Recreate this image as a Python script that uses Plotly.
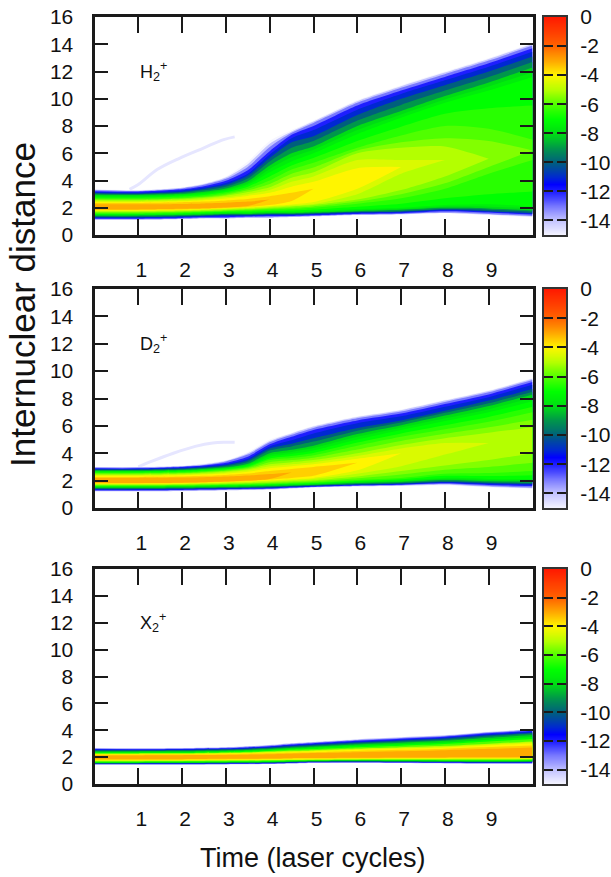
import plotly.graph_objects as go
from plotly.colors import sample_colorscale

N = None
TIME = [0, 1, 2, 2.5, 3, 3.5, 4, 4.5, 5, 6, 7, 8, 9, 10]
LEVELS_FINE = [-15, -14, -13, -12, -11, -10, -9, -8, -7.5, -7, -6.5, -6, -5.5, -5, -4.5, -4, -3.5, -3]
LEVELS_X2 = [-15, -14, -13, -12, -11, -10, -9, -8, -7, -6, -5, -4.5, -4, -3.5, -3]

# Internuclear distance of each log-density level at each TIME
H2_UPPER = [
    [3.35, 3.30, 3.50, 3.80, 4.30, 5.40, 6.90, 7.70, 8.40, 9.90, 11.00, 12.00, 13.00, 14.10],
    [3.32, 3.27, 3.47, 3.75, 4.22, 5.20, 6.70, 7.60, 8.33, 9.82, 10.92, 11.92, 12.92, 14.02],
    [3.28, 3.23, 3.42, 3.68, 4.12, 5.00, 6.45, 7.50, 8.22, 9.70, 10.80, 11.80, 12.80, 13.90],
    [3.22, 3.18, 3.35, 3.58, 3.98, 4.75, 6.15, 7.35, 8.00, 9.50, 10.60, 11.60, 12.60, 13.70],
    [3.15, 3.11, 3.27, 3.48, 3.82, 4.50, 5.90, 7.10, 7.70, 9.20, 10.35, 11.35, 12.35, 13.45],
    [3.08, 3.05, 3.18, 3.38, 3.68, 4.35, 5.65, 6.80, 7.25, 8.80, 10.00, 11.00, 12.00, 13.10],
    [3.02, 3.00, 3.10, 3.28, 3.55, 4.15, 5.40, 6.40, 6.90, 8.40, 9.55, 10.60, 11.60, 12.70],
    [2.95, 2.93, 3.02, 3.18, 3.42, 3.95, 5.10, 6.00, 6.50, 8.00, 9.10, 10.20, 11.20, 12.30],
    [2.88, 2.86, 2.96, 3.10, 3.33, 3.80, 4.85, 5.70, 6.25, 7.70, 8.85, 9.95, 10.90, 11.95],
    [2.82, 2.80, 2.90, 3.02, 3.25, 3.68, 4.60, 5.40, 6.00, 7.40, 8.60, 9.70, 10.60, 11.60],
    [2.75, 2.73, 2.82, 2.93, 3.15, 3.55, 4.30, 5.10, 5.65, 6.90, 7.95, 8.90, 9.30, 9.50],
    [2.68, 2.66, 2.74, 2.85, 3.05, 3.40, 4.00, 4.80, 5.30, 6.40, 7.30, 8.00, 7.80, 7.00],
    [2.62, 2.60, 2.68, 2.78, 2.96, 3.28, 3.75, 4.50, 4.95, 6.20, 6.80, 7.10, 6.90, 6.20],
    [2.57, 2.55, 2.62, 2.72, 2.88, 3.15, 3.50, 4.20, 4.60, 6.00, 6.40, 6.50, 5.60, N],
    [2.50, 2.48, 2.55, 2.63, 2.78, 3.00, 3.30, 3.90, 4.30, 5.50, 5.50, 5.50, N, N],
    [2.43, 2.41, 2.47, 2.55, 2.68, 2.87, 3.10, 3.55, 3.90, 4.90, 5.00, N, N, N],
    [2.35, 2.35, 2.40, 2.45, 2.54, 2.65, 2.85, 3.10, 3.40, N, N, N, N, N],
    [2.25, 2.25, 2.28, 2.32, 2.37, 2.45, 2.60, N, N, N, N, N, N, N],
]
H2_LOWER = [
    [1.10, 1.10, 1.15, 1.20, 1.20, 1.25, 1.25, 1.30, 1.35, 1.45, 1.50, 1.60, 1.45, 1.30],
    [1.12, 1.12, 1.17, 1.22, 1.22, 1.27, 1.27, 1.32, 1.37, 1.47, 1.52, 1.62, 1.50, 1.35],
    [1.15, 1.15, 1.20, 1.25, 1.25, 1.30, 1.30, 1.35, 1.40, 1.50, 1.55, 1.65, 1.55, 1.40],
    [1.20, 1.20, 1.25, 1.30, 1.30, 1.35, 1.40, 1.40, 1.45, 1.55, 1.60, 1.75, 1.65, 1.50],
    [1.25, 1.25, 1.30, 1.35, 1.40, 1.40, 1.45, 1.45, 1.50, 1.60, 1.65, 1.80, 1.70, 1.55],
    [1.30, 1.30, 1.35, 1.40, 1.45, 1.45, 1.50, 1.50, 1.55, 1.65, 1.70, 1.85, 1.75, 1.60],
    [1.35, 1.35, 1.40, 1.45, 1.50, 1.50, 1.55, 1.55, 1.60, 1.70, 1.75, 1.90, 1.85, 1.70],
    [1.42, 1.42, 1.46, 1.50, 1.55, 1.55, 1.60, 1.60, 1.65, 1.75, 1.85, 2.00, 1.95, 1.80],
    [1.46, 1.46, 1.50, 1.55, 1.60, 1.60, 1.65, 1.65, 1.70, 1.82, 1.92, 2.10, 2.08, 1.95],
    [1.50, 1.50, 1.55, 1.60, 1.65, 1.65, 1.70, 1.70, 1.75, 1.90, 2.00, 2.20, 2.25, 2.10],
    [1.55, 1.55, 1.60, 1.65, 1.70, 1.72, 1.77, 1.80, 1.87, 2.08, 2.30, 2.70, 3.00, 3.20],
    [1.60, 1.60, 1.65, 1.70, 1.75, 1.80, 1.85, 1.90, 2.00, 2.30, 2.70, 3.40, 4.50, 5.50],
    [1.66, 1.66, 1.70, 1.75, 1.80, 1.85, 1.92, 2.00, 2.10, 2.45, 3.00, 3.80, 5.00, 6.20],
    [1.70, 1.70, 1.74, 1.79, 1.84, 1.90, 2.00, 2.10, 2.20, 2.60, 3.30, 4.30, 5.60, N],
    [1.75, 1.75, 1.79, 1.84, 1.90, 1.97, 2.06, 2.16, 2.28, 3.00, 4.50, 5.50, N, N],
    [1.80, 1.80, 1.84, 1.89, 1.95, 2.02, 2.12, 2.24, 2.42, 3.40, 5.00, N, N, N],
    [1.84, 1.84, 1.88, 1.92, 1.98, 2.06, 2.20, 2.50, 3.40, N, N, N, N, N],
    [1.88, 1.88, 1.92, 1.96, 2.02, 2.12, 2.60, N, N, N, N, N, N, N],
]
D2_UPPER = [
    [3.00, 3.00, 3.10, 3.25, 3.50, 4.10, 5.00, 5.50, 6.00, 6.70, 7.20, 7.90, 8.60, 9.50],
    [2.98, 2.98, 3.07, 3.20, 3.45, 4.00, 4.90, 5.45, 5.95, 6.65, 7.15, 7.85, 8.55, 9.45],
    [2.95, 2.95, 3.04, 3.15, 3.40, 3.90, 4.80, 5.35, 5.85, 6.55, 7.05, 7.75, 8.45, 9.35],
    [2.90, 2.90, 3.00, 3.10, 3.30, 3.75, 4.65, 5.20, 5.70, 6.40, 6.90, 7.60, 8.30, 9.20],
    [2.86, 2.86, 2.94, 3.04, 3.20, 3.60, 4.50, 4.95, 5.45, 6.20, 6.70, 7.40, 8.10, 9.00],
    [2.82, 2.82, 2.88, 2.97, 3.12, 3.48, 4.35, 4.70, 5.10, 5.85, 6.40, 7.10, 7.85, 8.70],
    [2.78, 2.78, 2.84, 2.92, 3.05, 3.36, 4.20, 4.50, 4.85, 5.65, 6.25, 6.95, 7.65, 8.50],
    [2.72, 2.72, 2.78, 2.85, 2.97, 3.24, 4.00, 4.25, 4.55, 5.40, 6.05, 6.75, 7.45, 8.30],
    [2.68, 2.68, 2.74, 2.81, 2.92, 3.17, 3.88, 4.10, 4.38, 5.20, 5.88, 6.55, 7.22, 8.05],
    [2.65, 2.65, 2.70, 2.77, 2.88, 3.10, 3.75, 3.95, 4.20, 5.00, 5.70, 6.35, 7.00, 7.80],
    [2.60, 2.60, 2.65, 2.72, 2.83, 3.03, 3.62, 3.80, 4.02, 4.78, 5.45, 6.05, 6.65, 7.40],
    [2.55, 2.55, 2.60, 2.67, 2.78, 2.97, 3.50, 3.65, 3.85, 4.55, 5.20, 5.75, 6.30, 7.00],
    [2.50, 2.50, 2.55, 2.62, 2.72, 2.90, 3.35, 3.50, 3.68, 4.28, 4.90, 5.42, 5.90, 6.45],
    [2.45, 2.45, 2.50, 2.57, 2.67, 2.83, 3.20, 3.35, 3.50, 4.00, 4.60, 5.10, 5.50, 5.90],
    [2.40, 2.40, 2.45, 2.50, 2.60, 2.75, 3.05, 3.20, 3.35, 3.80, 4.35, 4.75, 4.75, N],
    [2.35, 2.35, 2.40, 2.45, 2.52, 2.65, 2.90, 3.05, 3.20, 3.60, 4.00, N, N, N],
    [2.27, 2.27, 2.30, 2.35, 2.42, 2.52, 2.70, 2.85, 3.00, 3.30, N, N, N, N],
    [2.20, 2.20, 2.22, 2.25, 2.30, 2.37, 2.48, 2.60, N, N, N, N, N, N],
]
D2_LOWER = [
    [1.20, 1.20, 1.22, 1.25, 1.27, 1.30, 1.32, 1.40, 1.47, 1.55, 1.60, 1.65, 1.50, 1.40],
    [1.22, 1.22, 1.25, 1.27, 1.30, 1.32, 1.35, 1.43, 1.50, 1.58, 1.63, 1.70, 1.55, 1.45],
    [1.25, 1.25, 1.27, 1.30, 1.32, 1.35, 1.38, 1.46, 1.53, 1.61, 1.66, 1.75, 1.60, 1.50],
    [1.30, 1.30, 1.32, 1.35, 1.37, 1.40, 1.43, 1.50, 1.56, 1.65, 1.70, 1.80, 1.68, 1.60],
    [1.34, 1.34, 1.36, 1.38, 1.40, 1.43, 1.46, 1.53, 1.59, 1.68, 1.74, 1.85, 1.74, 1.68],
    [1.38, 1.38, 1.40, 1.42, 1.44, 1.47, 1.50, 1.57, 1.63, 1.72, 1.78, 1.90, 1.80, 1.75],
    [1.42, 1.42, 1.44, 1.46, 1.48, 1.50, 1.54, 1.60, 1.66, 1.76, 1.83, 1.96, 1.87, 1.83],
    [1.48, 1.48, 1.50, 1.52, 1.54, 1.56, 1.60, 1.65, 1.70, 1.82, 1.90, 2.05, 1.96, 1.93],
    [1.52, 1.52, 1.54, 1.56, 1.58, 1.60, 1.64, 1.69, 1.74, 1.87, 1.96, 2.12, 2.04, 2.01],
    [1.56, 1.56, 1.58, 1.60, 1.62, 1.64, 1.68, 1.73, 1.78, 1.92, 2.02, 2.20, 2.12, 2.10],
    [1.59, 1.59, 1.61, 1.63, 1.66, 1.68, 1.72, 1.77, 1.83, 1.98, 2.10, 2.35, 2.33, 2.40],
    [1.62, 1.62, 1.64, 1.66, 1.70, 1.72, 1.76, 1.82, 1.88, 2.05, 2.20, 2.50, 2.55, 2.70],
    [1.66, 1.66, 1.68, 1.70, 1.74, 1.77, 1.82, 1.88, 1.95, 2.17, 2.45, 2.80, 3.00, 3.30],
    [1.70, 1.70, 1.72, 1.75, 1.78, 1.82, 1.88, 1.95, 2.02, 2.30, 2.70, 3.10, 3.50, 4.00],
    [1.73, 1.73, 1.76, 1.80, 1.84, 1.88, 1.95, 2.03, 2.12, 2.50, 3.05, 3.90, 4.75, N],
    [1.76, 1.76, 1.79, 1.83, 1.88, 1.93, 2.01, 2.10, 2.20, 2.75, 4.00, N, N, N],
    [1.79, 1.79, 1.82, 1.86, 1.91, 1.97, 2.08, 2.20, 2.35, 3.30, N, N, N, N],
    [1.82, 1.82, 1.85, 1.88, 1.93, 2.00, 2.12, 2.60, N, N, N, N, N, N],
]
X2_UPPER = [
    [2.70, 2.68, 2.70, 2.72, 2.75, 2.82, 2.92, 3.05, 3.15, 3.35, 3.50, 3.65, 3.90, 4.10],
    [2.68, 2.66, 2.68, 2.70, 2.73, 2.80, 2.90, 3.03, 3.13, 3.32, 3.47, 3.62, 3.87, 4.07],
    [2.65, 2.63, 2.65, 2.67, 2.70, 2.77, 2.86, 2.99, 3.09, 3.28, 3.43, 3.58, 3.83, 4.03],
    [2.60, 2.59, 2.61, 2.63, 2.66, 2.72, 2.81, 2.94, 3.04, 3.22, 3.37, 3.52, 3.77, 3.97],
    [2.56, 2.55, 2.57, 2.59, 2.62, 2.68, 2.76, 2.88, 2.98, 3.16, 3.30, 3.45, 3.70, 3.90],
    [2.52, 2.51, 2.53, 2.55, 2.58, 2.63, 2.71, 2.82, 2.92, 3.09, 3.23, 3.38, 3.62, 3.82],
    [2.48, 2.47, 2.49, 2.51, 2.54, 2.59, 2.66, 2.76, 2.85, 3.02, 3.16, 3.30, 3.54, 3.75],
    [2.42, 2.42, 2.43, 2.45, 2.48, 2.53, 2.60, 2.70, 2.78, 2.94, 3.07, 3.21, 3.44, 3.65],
    [2.36, 2.36, 2.37, 2.39, 2.42, 2.47, 2.53, 2.62, 2.70, 2.84, 2.96, 3.08, 3.30, 3.50],
    [2.30, 2.30, 2.31, 2.33, 2.36, 2.40, 2.46, 2.54, 2.60, 2.74, 2.85, 2.97, 3.16, 3.35],
    [2.26, 2.26, 2.27, 2.29, 2.32, 2.35, 2.41, 2.47, 2.52, 2.64, 2.74, 2.84, 3.00, 3.17],
    [2.24, 2.24, 2.25, 2.27, 2.29, 2.32, 2.37, 2.43, 2.48, 2.59, 2.69, 2.78, 2.94, 3.10],
    [2.21, 2.21, 2.22, 2.24, 2.26, 2.29, 2.34, 2.39, 2.44, 2.54, 2.63, 2.72, 2.87, 3.02],
    [2.18, 2.18, 2.19, 2.20, 2.22, 2.25, 2.29, 2.33, 2.37, 2.46, 2.54, 2.63, 2.75, 2.87],
    [2.13, 2.13, 2.14, 2.15, 2.16, 2.18, 2.21, 2.25, 2.30, 2.37, 2.44, 2.52, 2.62, 2.72],
]
X2_LOWER = [
    [1.41, 1.41, 1.42, 1.43, 1.44, 1.45, 1.47, 1.50, 1.54, 1.57, 1.55, 1.52, 1.50, 1.49],
    [1.43, 1.43, 1.44, 1.45, 1.46, 1.47, 1.49, 1.52, 1.56, 1.59, 1.57, 1.54, 1.52, 1.51],
    [1.45, 1.45, 1.46, 1.46, 1.47, 1.48, 1.50, 1.54, 1.58, 1.60, 1.58, 1.55, 1.53, 1.53],
    [1.48, 1.48, 1.49, 1.49, 1.50, 1.51, 1.53, 1.57, 1.61, 1.62, 1.60, 1.58, 1.56, 1.57],
    [1.51, 1.51, 1.52, 1.52, 1.53, 1.54, 1.56, 1.60, 1.64, 1.66, 1.64, 1.62, 1.60, 1.61],
    [1.53, 1.53, 1.54, 1.54, 1.55, 1.56, 1.58, 1.62, 1.66, 1.68, 1.66, 1.64, 1.62, 1.64],
    [1.55, 1.55, 1.56, 1.56, 1.57, 1.58, 1.60, 1.64, 1.68, 1.70, 1.68, 1.66, 1.64, 1.66],
    [1.57, 1.57, 1.58, 1.59, 1.60, 1.61, 1.63, 1.67, 1.71, 1.73, 1.71, 1.69, 1.67, 1.69],
    [1.60, 1.60, 1.61, 1.62, 1.63, 1.64, 1.66, 1.70, 1.74, 1.76, 1.74, 1.72, 1.71, 1.73],
    [1.65, 1.65, 1.66, 1.67, 1.68, 1.69, 1.71, 1.74, 1.77, 1.79, 1.78, 1.77, 1.76, 1.78],
    [1.70, 1.70, 1.71, 1.72, 1.73, 1.74, 1.76, 1.79, 1.81, 1.83, 1.83, 1.83, 1.82, 1.84],
    [1.73, 1.73, 1.74, 1.75, 1.76, 1.77, 1.79, 1.81, 1.83, 1.85, 1.86, 1.86, 1.86, 1.87],
    [1.76, 1.76, 1.77, 1.78, 1.79, 1.80, 1.82, 1.84, 1.85, 1.87, 1.89, 1.90, 1.91, 1.91],
    [1.80, 1.80, 1.81, 1.82, 1.83, 1.84, 1.86, 1.88, 1.89, 1.91, 1.93, 1.94, 1.95, 1.95],
    [1.84, 1.84, 1.85, 1.86, 1.87, 1.88, 1.90, 1.92, 1.93, 1.95, 1.97, 1.98, 1.99, 2.00],
]
H2_GHOST_T = [0.8, 1.0, 1.43, 1.95, 2.5, 2.95, 3.2]
H2_GHOST_R = [3.35, 3.7, 4.8, 5.65, 6.4, 7.0, 7.2]
D2_GHOST_T = [1.0, 1.3, 1.8, 2.3, 2.7, 3.0, 3.2]
D2_GHOST_R = [3.0, 3.4, 4.0, 4.5, 4.75, 4.8, 4.8]

PANEL_LABELS = ["H<sub>2</sub><sup>+</sup>", "D<sub>2</sub><sup>+</sup>", "X<sub>2</sub><sup>+</sup>"]
X_TICKS = [1, 2, 3, 4, 5, 6, 7, 8, 9]
Y_TICKS = [0, 2, 4, 6, 8, 10, 12, 14, 16]
CBAR_TICKS = [0, -2, -4, -6, -8, -10, -12, -14]
CBAR_LABELS = ["0", "-2", "-4", "-6", "-8", "-10", "-12", "-14"]
CBAR_RAMP = [-15, -14.5, -14, -13.5, -13, -12.5, -12, -11.5, -11, -10.5, -10, -9.5, -9, -8.5, -8,
             -7.5, -7, -6.5, -6, -5.5, -5, -4.5, -4, -3.5, -3, -2.5, -2, -1.5, -1, -0.5, 0]

COLOR_STOPS = [
    (-15, "rgb(246,246,255)"), (-14, "rgb(196,196,255)"), (-13, "rgb(120,120,255)"),
    (-12, "rgb(30,30,255)"), (-11.5, "rgb(0,0,255)"), (-11, "rgb(0,40,210)"),
    (-10, "rgb(0,95,125)"), (-9, "rgb(0,150,75)"), (-8, "rgb(0,220,20)"), (-7, "rgb(0,255,0)"),
    (-6, "rgb(80,255,0)"), (-5, "rgb(180,255,0)"), (-4, "rgb(255,245,0)"),
    (-3, "rgb(255,170,0)"), (-2, "rgb(255,100,0)"), (0, "rgb(255,25,0)"),
]
SCALE = [[(v + 15) / 15, c] for v, c in COLOR_STOPS]

W, H = 611, 877
FONT = "Liberation Sans"
FRAME = "#1a1a1a"
PANELS = [(17, 235), (289, 508), (569, 784)]
PLOT_X = (94.5, 532.5)
CBAR_X = (544, 566)


def level_color(level):
    return sample_colorscale(SCALE, [(level + 15) / 15])[0]


def present(values):
    pts = [(t, v) for t, v in zip(TIME, values) if v is not None]
    return [p[0] for p in pts], [p[1] for p in pts]


fig = go.Figure()
tables = [(LEVELS_FINE, H2_UPPER, H2_LOWER), (LEVELS_FINE, D2_UPPER, D2_LOWER), (LEVELS_X2, X2_UPPER, X2_LOWER)]
ghosts = [(H2_GHOST_T, H2_GHOST_R), (D2_GHOST_T, D2_GHOST_R), None]

for i, (levels, upper, lower) in enumerate(tables):
    xa, ya = f"x{2*i+1}", f"y{2*i+1}"
    if ghosts[i]:
        fig.add_trace(go.Scatter(x=ghosts[i][0], y=ghosts[i][1], mode="lines", xaxis=xa, yaxis=ya,
                                 line=dict(color="rgb(230,230,255)", width=3, shape="spline"),
                                 showlegend=False, hoverinfo="skip"))
    for level, up, lo in zip(levels, upper, lower):
        tx, vx = present(lo)
        fig.add_trace(go.Scatter(x=tx, y=vx, mode="lines", xaxis=xa, yaxis=ya,
                                 line=dict(width=0, shape="spline", smoothing=0.7),
                                 showlegend=False, hoverinfo="skip"))
        tx, vx = present(up)
        fig.add_trace(go.Scatter(x=tx, y=vx, mode="lines", xaxis=xa, yaxis=ya, fill="tonexty",
                                 fillcolor=level_color(level),
                                 line=dict(width=0, shape="spline", smoothing=0.7),
                                 showlegend=False, hoverinfo="skip"))
    fig.add_trace(go.Heatmap(x=[0, 1], y=CBAR_RAMP, z=[[v, v] for v in CBAR_RAMP],
                             xaxis=f"x{2*i+2}", yaxis=f"y{2*i+2}", colorscale=SCALE,
                             zmin=-15, zmax=0, showscale=False, zsmooth="best", hoverinfo="skip"))

layout = dict(width=W, height=H, margin=dict(l=0, r=0, t=0, b=0, autoexpand=False), autosize=False,
              paper_bgcolor="white", plot_bgcolor="white", showlegend=False,
              font=dict(family=FONT, size=21, color="#111111"))
annotations = []
for i, (top, bottom) in enumerate(PANELS):
    dom_y = [1 - bottom / H, 1 - top / H]
    a, b = 2 * i + 1, 2 * i + 2
    layout[f"xaxis{a}"] = dict(domain=[PLOT_X[0] / W, PLOT_X[1] / W], range=[0, 10], anchor=f"y{a}",
                               tickvals=X_TICKS, ticks="inside", ticklen=16, tickwidth=2, tickcolor=FRAME,
                               showline=True, linewidth=3, linecolor=FRAME, mirror="ticks", showgrid=False,
                               zeroline=False, ticklabelstandoff=14, ticklabelshift=3)
    layout[f"yaxis{a}"] = dict(domain=dom_y, range=[0, 16], anchor=f"x{a}",
                               tickvals=Y_TICKS, ticks="inside", ticklen=13, tickwidth=2, tickcolor=FRAME,
                               showline=True, linewidth=3, linecolor=FRAME, mirror="ticks", showgrid=False,
                               zeroline=False, ticklabelstandoff=14)
    layout[f"xaxis{b}"] = dict(domain=[CBAR_X[0] / W, CBAR_X[1] / W], range=[0, 1], anchor=f"y{b}",
                               showticklabels=False, ticks="", showline=True, linewidth=2, linecolor="#333333",
                               mirror=True, showgrid=False, zeroline=False)
    layout[f"yaxis{b}"] = dict(domain=dom_y, range=[-15, 0], anchor=f"x{b}", side="right",
                               tickvals=CBAR_TICKS, ticktext=CBAR_LABELS, ticks="inside", ticklen=9, tickwidth=2,
                               tickcolor="#1a1a1a", showline=True, linewidth=2, linecolor="#333333", mirror="ticks",
                               showgrid=False, zeroline=False, ticklabelstandoff=8)
    annotations.append(dict(text=PANEL_LABELS[i], xref=f"x{a}", yref=f"y{a}", x=1.0, y=12.0, showarrow=False,
                            xanchor="left", yanchor="middle", font=dict(size=18, family=FONT)))

annotations.append(dict(text="Internuclear distance", xref="paper", yref="paper", x=22 / W, y=1 - 305 / H,
                        textangle=-90, showarrow=False, xanchor="center", yanchor="middle",
                        font=dict(size=35, family=FONT)))
annotations.append(dict(text="Time (laser cycles)", xref="paper", yref="paper", x=313 / W, y=1 - 858 / H,
                        showarrow=False, xanchor="center", yanchor="middle", font=dict(size=27, family=FONT)))
layout["annotations"] = annotations
fig.update_layout(**layout)
fig.write_html("out.html", config=dict(displayModeBar=False),
               post_script="document.body.style.margin='0';document.documentElement.style.overflow='hidden';")
